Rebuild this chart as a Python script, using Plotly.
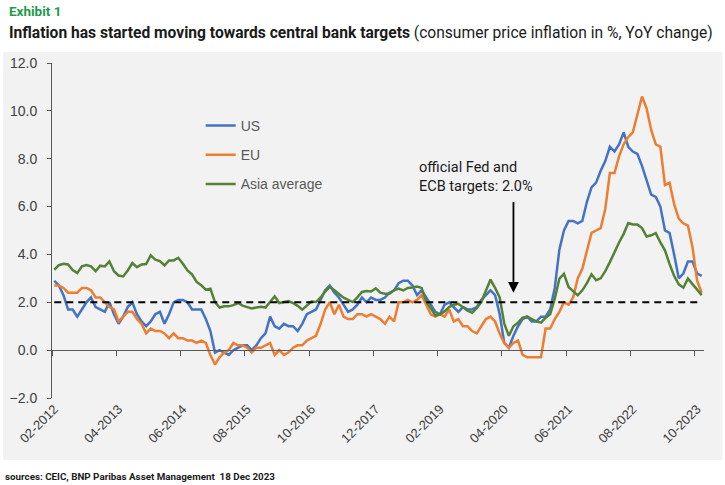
import pandas as pd
import plotly.graph_objects as go

# monthly categories, Feb 2012 .. Nov 2023
months = [d.strftime("%m-%Y") for d in pd.date_range("2012-02-01", "2023-11-01", freq="MS")]
tick_labels = ["02-2012", "04-2013", "06-2014", "08-2015", "10-2016", "12-2017",
               "02-2019", "04-2020", "06-2021", "08-2022", "10-2023"]

us = [2.9, 2.7, 2.3, 1.7, 1.7, 1.4, 1.7, 2.0, 2.2, 1.8, 1.7,
      1.6, 2.0, 1.5, 1.1, 1.4, 1.8, 2.0, 1.5, 1.2, 1.0, 1.2, 1.5,
      1.6, 1.1, 1.5, 2.0, 2.1, 2.1, 2.0, 1.7, 1.7, 1.7, 1.3, 0.8,
      -0.1, 0.0, -0.1, -0.2, 0.0, 0.1, 0.2, 0.2, 0.0, 0.2, 0.5, 0.7,
      1.4, 1.0, 0.9, 1.1, 1.0, 1.0, 0.8, 1.1, 1.5, 1.6, 1.7, 2.1,
      2.5, 2.7, 2.4, 2.2, 1.9, 1.6, 1.7, 1.9, 2.2, 2.0, 2.2, 2.1,
      2.1, 2.2, 2.4, 2.5, 2.8, 2.9, 2.9, 2.7, 2.3, 2.5, 2.2, 1.9,
      1.6, 1.5, 1.9, 2.0, 1.8, 1.6, 1.8, 1.7, 1.7, 1.8, 2.1, 2.3,
      2.5, 2.3, 1.5, 0.3, 0.1, 0.6, 1.0, 1.3, 1.4, 1.2, 1.2, 1.4,
      1.4, 1.7, 2.6, 4.2, 5.0, 5.4, 5.4, 5.3, 5.4, 6.2, 6.8, 7.0,
      7.5, 7.9, 8.5, 8.3, 8.6, 9.1, 8.5, 8.3, 8.2, 7.7, 7.1, 6.5,
      6.4, 6.0, 5.0, 4.9, 4.0, 3.0, 3.2, 3.7, 3.7, 3.2, 3.1]

eu = [2.7, 2.7, 2.6, 2.4, 2.4, 2.4, 2.6, 2.6, 2.5, 2.2, 2.2,
      2.0, 1.8, 1.7, 1.2, 1.4, 1.6, 1.6, 1.3, 1.1, 0.7, 0.9, 0.8,
      0.8, 0.7, 0.5, 0.7, 0.5, 0.5, 0.4, 0.4, 0.3, 0.4, 0.3, -0.2,
      -0.6, -0.3, -0.1, 0.0, 0.3, 0.2, 0.2, 0.1, -0.1, 0.1, 0.1, 0.2,
      0.3, -0.2, 0.0, -0.2, -0.1, 0.1, 0.2, 0.2, 0.4, 0.5, 0.6, 1.1,
      1.7, 2.0, 1.5, 1.9, 1.4, 1.3, 1.3, 1.5, 1.5, 1.4, 1.5, 1.4,
      1.3, 1.1, 1.4, 1.2, 2.0, 2.0, 2.1, 2.0, 2.1, 2.3, 1.9, 1.5,
      1.4, 1.5, 1.4, 1.7, 1.2, 1.3, 1.0, 1.0, 0.8, 0.7, 1.0, 1.3,
      1.4, 1.2, 0.7, 0.3, 0.1, 0.3, 0.4, -0.2, -0.3, -0.3, -0.3, -0.3,
      0.9, 0.9, 1.3, 1.6, 2.0, 1.9, 2.2, 3.0, 3.4, 4.1, 4.9, 5.0,
      5.1, 5.9, 7.4, 7.4, 8.1, 8.6, 8.9, 9.1, 9.9, 10.6, 10.1, 9.2,
      8.6, 8.5, 6.9, 7.0, 6.1, 5.5, 5.3, 5.2, 4.3, 2.9, 2.4]

asia = [3.36, 3.55, 3.61, 3.58, 3.35, 3.22, 3.5, 3.56, 3.5, 3.3, 3.53,
        3.5, 3.71, 3.3, 3.12, 3.08, 3.33, 3.64, 3.47, 3.58, 3.6, 3.96, 3.78,
        3.72, 3.54, 3.75, 3.75, 3.86, 3.61, 3.33, 3.17, 2.85, 2.71, 2.53, 2.57,
        2.01, 1.78, 1.83, 1.83, 1.88, 1.97, 1.86, 1.8, 1.74, 1.78, 1.81, 1.78,
        2.0, 2.25, 1.97, 2.02, 2.05, 1.97, 1.85, 1.69, 1.88, 2.03, 2.01, 2.2,
        2.45, 2.64, 2.5, 2.35, 2.19, 2.1, 2.01, 2.2, 2.43, 2.47, 2.45, 2.58,
        2.4, 2.36, 2.36, 2.5, 2.57, 2.5, 2.6, 2.62, 2.66, 2.6, 2.05, 1.75,
        1.45, 1.5, 1.62, 1.8, 1.9, 1.94, 1.8, 1.65, 1.56, 1.75, 2.01, 2.5,
        2.95, 2.6, 2.2, 1.11, 0.6, 1.0, 1.15, 1.36, 1.4, 1.3, 1.2, 1.15,
        1.35, 1.5, 2.15, 2.99, 3.19, 2.64, 2.45, 2.29, 2.5, 2.8, 3.17, 2.92,
        3.0, 3.3, 3.68, 4.1, 4.5, 4.86, 5.31, 5.25, 5.25, 5.1, 4.75, 4.8,
        4.89, 4.5, 4.17, 3.6, 3.1, 2.75, 2.61, 2.99, 2.75, 2.5, 2.3]

target = [2.0] * len(months)

# tick marks sit on category boundaries every 14 months (Excel style)
boundary_ticks = [k - 0.5 for k in range(0, len(months) + 1, 14)]
axis_grey = "#595959"

fig = go.Figure()
fig.add_trace(go.Scatter(x=months, y=us, name="US", mode="lines",
                         line=dict(color="#4472C4", width=2.5), legendgroup="a"))
fig.add_trace(go.Scatter(x=months, y=eu, name="EU", mode="lines",
                         line=dict(color="#ED7D31", width=2.5), legendgroup="b"))
fig.add_trace(go.Scatter(x=months, y=asia, name="Asia average", mode="lines",
                         line=dict(color="#548235", width=2.5), legendgroup="c"))
fig.add_trace(go.Scatter(x=list(range(len(months))), y=target, xaxis="x2", mode="lines",
                         line=dict(color="black", width=2, dash="7px,5px"),
                         showlegend=False))

# light grey chart area behind everything
fig.add_shape(type="rect", xref="paper", yref="paper", x0=-0.075, x1=1.028,
              y0=-0.185, y1=1.033, fillcolor="#f2f2f2", line_width=0, layer="below")

fig.add_annotation(text="official Fed and<br>ECB targets: 2.0%", x=months[79], y=7.25,
                   xanchor="left", yanchor="middle", align="left", showarrow=False,
                   font=dict(family="Roboto", size=14.5, color="#1a1a1a"))
fig.add_annotation(text="", x=months[100], y=2.4, ax=months[100], ay=6.25,
                   axref="x", ayref="y", showarrow=True, arrowhead=2, arrowsize=1.2,
                   arrowwidth=1.8, arrowcolor="black", standoff=0)

fig.add_annotation(text="<b>Exhibit 1</b>", xref="paper", yref="paper", x=-0.069, y=1.155,
                   xanchor="left", yanchor="middle", showarrow=False,
                   font=dict(family="Roboto", size=13.5, color="#1f9a4a"))
fig.add_annotation(text="<b>Inflation has started moving towards central bank targets</b> "
                        "(consumer price inflation in %, YoY change)",
                   xref="paper", yref="paper", x=-0.069, y=1.09, xanchor="left",
                   yanchor="middle", showarrow=False,
                   font=dict(family="Roboto", size=15.6, color="#1a1a1a"))
fig.add_annotation(text="<b>sources: CEIC, BNP Paribas Asset Management  18 Dec 2023</b>",
                   xref="paper", yref="paper", x=-0.075, y=-0.233, xanchor="left",
                   yanchor="middle", showarrow=False,
                   font=dict(family="Roboto", size=9.8, color="#1a1a1a"))

fig.update_layout(
    width=725, height=485,
    margin=dict(l=52, r=21, t=63, b=87),
    paper_bgcolor="white", plot_bgcolor="rgba(0,0,0,0)",
    font=dict(family="Liberation Sans", color="#404040"),
    showlegend=True,
    legend=dict(x=0.228, y=0.86, xanchor="left", yanchor="top",
                bgcolor="rgba(0,0,0,0)", font=dict(size=14, color="#595959"),
                tracegroupgap=8),
    xaxis=dict(type="category", categoryorder="array", categoryarray=months,
               range=[-0.5, len(months) - 0.5], tickmode="array", tickvals=tick_labels,
               ticktext=tick_labels, tickangle=-45, ticks="", showline=False,
               showgrid=False, zeroline=False, automargin=False,
               tickfont=dict(size=13, color="#404040")),
    xaxis2=dict(overlaying="x", anchor="free", position=2 / 14,
                range=[-0.5, len(months) - 0.5], tickmode="array", tickvals=boundary_ticks,
                showticklabels=False, ticks="outside", ticklen=5, tickcolor=axis_grey,
                showline=True, linecolor=axis_grey, linewidth=1, showgrid=False,
                zeroline=False, automargin=False),
    yaxis=dict(range=[-2, 12], dtick=2, tickformat=".1f", showline=True,
               linecolor=axis_grey, linewidth=1, ticks="outside", ticklen=4,
               tickcolor=axis_grey, showgrid=False, zeroline=False, ticklabelstandoff=7,
               automargin=False, tickfont=dict(size=14, color="#404040")),
)

# drop the default 8px body margin so the figure fills the window exactly
fig.write_html("out.html", config={"displayModeBar": False},
               post_script="document.body.style.margin='0';")
